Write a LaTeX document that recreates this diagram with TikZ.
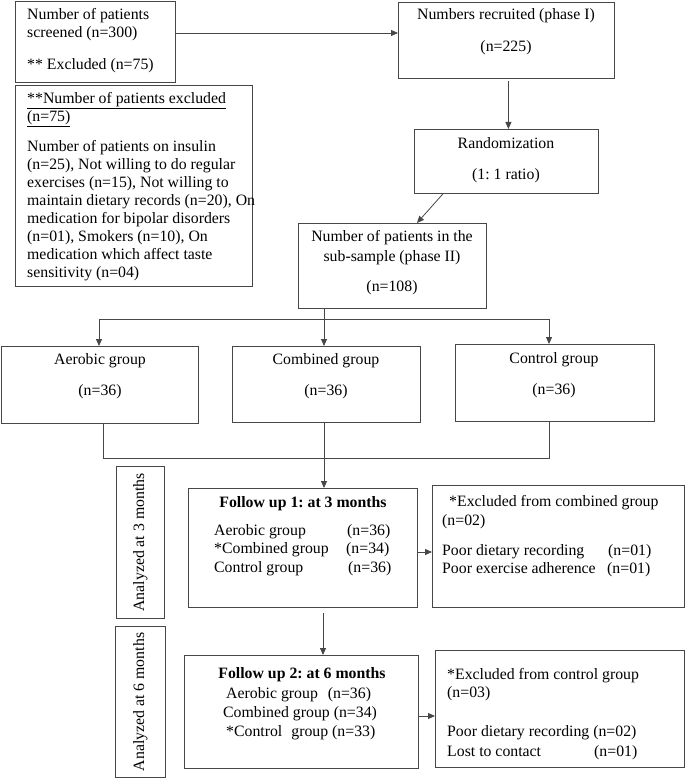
\documentclass[tikz,border=0pt]{standalone}
\usepackage{fontspec}
\setmainfont{Liberation Serif}
\frenchspacing
\usetikzlibrary{arrows.meta}
\begin{document}
\begin{tikzpicture}[x=1pt,y=-1pt,
  box/.style={draw=black!72, line width=0.8pt, inner sep=0, anchor=north west},
  t/.style={inner sep=0, text height=11pt, text depth=3.5pt, font=\fontsize{15.8}{18}\selectfont},
  tl/.style={t, anchor=west},
  arr/.style={draw=black!72, line width=0.8pt, -{Triangle[length=7pt,width=6pt]}},
  ln/.style={draw=black!72, line width=0.8pt}]
\useasboundingbox (0,0) rectangle (685,778);

% boxes
\node[box, minimum width=160pt, minimum height=81pt] (scr) at (15,1) {};
\node[box, minimum width=237pt, minimum height=201pt] (excl) at (15,85) {};
\node[box, minimum width=216pt, minimum height=76pt] (rec) at (398,2) {};
\node[box, minimum width=184pt, minimum height=64pt] (rand) at (414,129) {};
\node[box, minimum width=188pt, minimum height=85pt] (sub) at (298,223) {};
\node[box, minimum width=197pt, minimum height=77pt] (aer) at (1,346) {};
\node[box, minimum width=188pt, minimum height=76pt] (com) at (232,346) {};
\node[box, minimum width=199pt, minimum height=77pt] (con) at (455,344) {};
\node[box, minimum width=48pt, minimum height=152pt] (an3) at (116,466) {};
\node[box, minimum width=229pt, minimum height=119pt] (fu1) at (188,488) {};
\node[box, minimum width=252pt, minimum height=122pt] (ex1) at (432,485) {};
\node[box, minimum width=50pt, minimum height=151pt] (an6) at (115,626) {};
\node[box, minimum width=234pt, minimum height=113pt] (fu2) at (184,655) {};
\node[box, minimum width=249pt, minimum height=117pt] (ex2) at (435,650) {};

% texts: screened
\node[tl] (scr1) at (27,16) {Number of patients};
\node[tl] (scr2) at (27,34) {screened (n=300)};
\node[tl] (scr3) at (27,66) {** Excluded (n=75)};
% excluded details
\node[tl] (ex0a) at (27,100) {\underline{**Number of patients excluded}};
\node[tl] (ex0b) at (27,118) {\underline{(n=75)}};
\node[tl] (exl1) at (27,148) {Number of patients on insulin};
\node[tl] (exl2) at (27,166) {(n=25), Not willing to do regular};
\node[tl] (exl3) at (27,184) {exercises (n=15), Not willing to};
\node[tl] (exl4) at (27,202) {maintain dietary records (n=20), On};
\node[tl] (exl5) at (27,220) {medication for bipolar disorders};
\node[tl] (exl6) at (27,238) {(n=01), Smokers (n=10), On};
\node[tl] (exl7) at (27,256) {medication which affect taste};
\node[tl] (exl8) at (27,274) {sensitivity (n=04)};
% recruited
\node[t] (rec1) at (506,16) {Numbers recruited (phase I)};
\node[t] (rec2) at (506,48) {(n=225)};
% randomization
\node[t] (rand1) at (506,145) {Randomization};
\node[t] (rand2) at (506,176) {(1: 1 ratio)};
% sub-sample
\node[t] (sub1) at (392,238) {Number of patients in the};
\node[t] (sub2) at (392,258) {sub-sample (phase II)};
\node[t] (sub3) at (392,288) {(n=108)};
% groups
\node[t] (aer1) at (100,361) {Aerobic group};
\node[t] (aer2) at (100,392) {(n=36)};
\node[t] (com1) at (326,361) {Combined group};
\node[t] (com2) at (326,392) {(n=36)};
\node[t] (con1) at (554,360) {Control group};
\node[t] (con2) at (554,391) {(n=36)};
% analyzed
\node[t, rotate=90] (an3t) at (an3.center) {Analyzed at 3 months};
\node[t, rotate=90] (an6t) at (an6.center) {Analyzed at 6 months};
% follow up 1
\node[t, font=\fontsize{15.8}{18}\selectfont\bfseries] (fu1h) at (303,504) {Follow up 1: at 3 months};
\node[tl] (fu1a) at (214,532) {Aerobic group};
\node[tl] (fu1an) at (347,532) {(n=36)};
\node[tl] (fu1b) at (214,550) {*Combined group};
\node[tl] (fu1bn) at (346,550) {(n=34)};
\node[tl] (fu1c) at (214,569) {Control group};
\node[tl] (fu1cn) at (348,569) {(n=36)};
% excluded from combined
\node[tl] (ex1a) at (449,503) {*Excluded from combined group};
\node[tl] (ex1b) at (442,522) {(n=02)};
\node[tl] (ex1c) at (442,552) {Poor dietary recording};
\node[tl] (ex1cn) at (608,552) {(n=01)};
\node[tl] (ex1d) at (442,570) {Poor exercise adherence};
\node[tl] (ex1dn) at (607,570) {(n=01)};
% follow up 2
\node[t, font=\fontsize{15.8}{18}\selectfont\bfseries] (fu2h) at (302,675) {Follow up 2: at 6 months};
\node[tl] (fu2a) at (226,695) {Aerobic group\hspace{10pt}(n=36)};
\node[tl] (fu2b) at (223,714) {Combined group (n=34)};
\node[tl] (fu2c) at (226,733) {*Control\hspace{9pt}group (n=33)};
% excluded from control
\node[tl] (ex2a) at (447,676) {*Excluded from control group};
\node[tl] (ex2b) at (447,694) {(n=03)};
\node[tl] (ex2c) at (447,733) {Poor dietary recording (n=02)};
\node[tl] (ex2d) at (447,753) {Lost to contact};
\node[tl] (ex2dn) at (594,753) {(n=01)};

% connectors
\draw[arr] ([yshift=-32pt]scr.north east) -- ([yshift=-31pt]rec.north west);
\draw[arr] ([xshift=2pt,yshift=-2pt]rec.south) -- ([xshift=2pt]rand.north);
\draw[arr] ([xshift=29pt]rand.south west) -- ([xshift=119pt]sub.north west);
\coordinate (dl) at (99,319);
\coordinate (dr) at (549,319);
\draw[ln] (dl) -- (dr);
\draw[arr] (dl) -- (dl |- aer.north);
\draw[arr] (dr) -- (dr |- con.north);
\draw[arr] ([xshift=26pt]sub.south west) coordinate (sb) -- (sb |- com.north);
\coordinate (ml) at (103,458);
\coordinate (mr) at (549,458);
\draw[ln] (ml |- aer.south) -- (ml) -- (mr) -- (mr |- con.south);
\draw[arr] ([xshift=92pt]com.south west) coordinate (cb) -- (cb |- fu1.north);
\draw[arr] ([yshift=-64pt]fu1.north east) coordinate (f1) -- (f1 -| ex1.west);
\draw[arr] ([xshift=135pt,yshift=-5pt]fu1.south west) coordinate (f1b) -- (f1b |- fu2.north);
\draw[arr] ([yshift=-61pt]fu2.north east) coordinate (f2) -- (f2 -| ex2.west);
\end{tikzpicture}
\end{document}
